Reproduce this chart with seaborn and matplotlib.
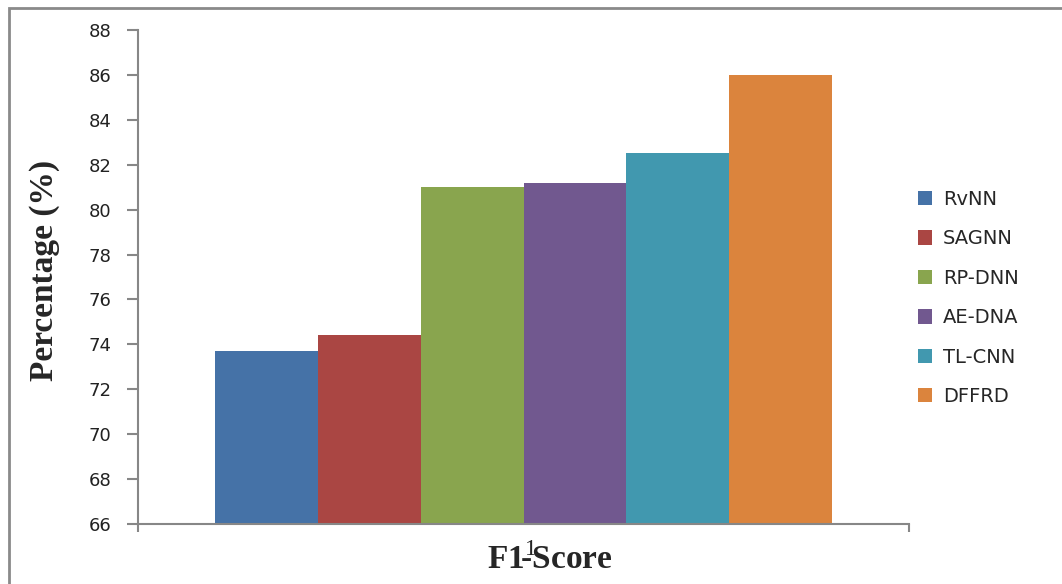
import matplotlib
matplotlib.use("Agg")
import matplotlib.pyplot as plt
from matplotlib.patches import Rectangle
import seaborn as sns
import pandas as pd

# F1-score of each model (%)
models = ["RvNN", "SAGNN", "RP-DNN", "AE-DNA", "TL-CNN", "DFFRD"]
f1_scores = [73.7, 74.4, 81.0, 81.2, 82.5, 86.0]
bar_colors = ["#4572A7", "#AA4643", "#89A54E", "#71588F", "#4198AF", "#DB843D"]
metric = "F1-Score"
y_ticks = [66, 68, 70, 72, 74, 76, 78, 80, 82, 84, 86, 88]

df = pd.DataFrame({"metric": [metric] * len(models), "model": models, "score": f1_scores})

sns.set_theme(style="white")
plt.rcParams["font.family"] = ["DejaVu Sans"]
plt.rcParams["mathtext.fontset"] = "custom"
plt.rcParams["mathtext.rm"] = "Liberation Serif"
plt.rcParams["mathtext.bf"] = "Liberation Serif:bold"

W, H = 1062, 584
fig = plt.figure(figsize=(W / 100, H / 100), dpi=100)
ax = fig.add_axes([138 / W, 1 - 524 / H, (909 - 138) / W, (524 - 30) / H])

sns.barplot(data=df, x="metric", y="score", hue="model", hue_order=models,
            palette=bar_colors, width=0.8, saturation=1, ax=ax,
            edgecolor="none", linewidth=0, legend=True)

axis_grey = "#878787"
ax.set_ylim(66, 88)
ax.set_xlim(-0.5, 0.5)
ax.set_yticks(y_ticks)
ax.set_yticklabels([str(t) for t in y_ticks], fontsize=13, color="#222222")
ax.tick_params(axis="y", which="major", direction="out", length=8, width=1.5,
               color=axis_grey, left=True, pad=11)
ax.set_xticks([])
ax.set_xticks([-0.5, 0.5], minor=True)
ax.tick_params(axis="x", which="minor", direction="out", length=6, width=1.5,
               color=axis_grey, bottom=True)
ax.set_xlabel("")
ax.set_ylabel("")
for side in ["top", "right"]:
    ax.spines[side].set_visible(False)
for side in ["left", "bottom"]:
    ax.spines[side].set_color(axis_grey)
    ax.spines[side].set_linewidth(1.5)

# legend on the right
handles, labels = ax.get_legend_handles_labels()
ax.get_legend().remove()
fig.legend(handles, labels, loc="center left",
           bbox_to_anchor=(900 / W, 1 - 298 / H), frameon=False,
           fontsize=14, handlelength=0.75, handleheight=0.75,
           handletextpad=0.55, labelspacing=1.05)

# axis titles
fig.text(45 / W, 1 - 270 / H, "Percentage (%)", rotation=90, ha="center", va="center",
         family="Liberation Serif", fontweight="bold", fontsize=24)
fig.text(550 / W, 1 - 560 / H, r"F1${}^{\mathrm{1}}\!\!\!$-Score", ha="center", va="center",
         family="Liberation Serif", fontweight="bold", fontsize=24)

# outer frame of the chart area
fig.patches.append(Rectangle((9 / W, -0.2), 1.2, 1.2 - 8 / H,
                             transform=fig.transFigure, fill=False,
                             edgecolor="#8a8a8a", linewidth=2, clip_on=False))

fig.savefig("out.png", dpi=100)
